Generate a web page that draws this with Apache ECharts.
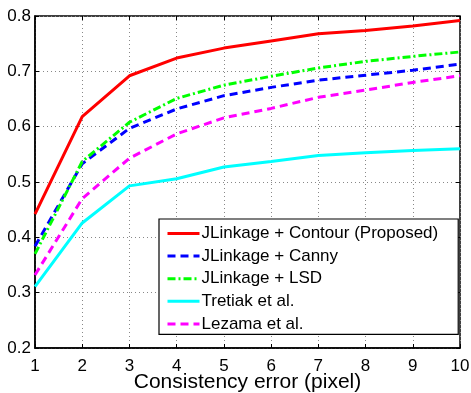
<!DOCTYPE html>
<html>
<head>
<meta charset="utf-8">
<title>Consistency error</title>
<style>
html,body{margin:0;padding:0;background:#fff;}
#chart{width:471px;height:393px;}
</style>
</head>
<body>
<div id="chart"></div>
<script src="https://cdn.jsdelivr.net/npm/echarts@6/dist/echarts.min.js"></script>
<script>
// x: consistency error in pixels
var xs = [1, 2, 3, 4, 5, 6, 7, 8, 9, 10];
var contour = [0.442, 0.618, 0.692, 0.724, 0.742, 0.755, 0.768, 0.774, 0.782, 0.792];
var canny   = [0.384, 0.533, 0.597, 0.632, 0.656, 0.671, 0.684, 0.693, 0.702, 0.713];
var lsd     = [0.370, 0.537, 0.608, 0.651, 0.675, 0.691, 0.706, 0.718, 0.727, 0.735];
var tretiak = [0.311, 0.426, 0.493, 0.506, 0.527, 0.537, 0.548, 0.553, 0.557, 0.560];
var lezama  = [0.332, 0.470, 0.543, 0.587, 0.616, 0.633, 0.653, 0.666, 0.680, 0.692];
var names = ['JLinkage + Contour (Proposed)', 'JLinkage + Canny', 'JLinkage + LSD', 'Tretiak et al.', 'Lezama et al.'];

function pairs(ys){ return xs.map(function(x, i){ return [x, ys[i]]; }); }

var font = 'Liberation Sans, Arial, sans-serif';
var grid = {type: [1, 3], color: '#888', width: 1};

function mkSeries(name, ys, color, dash){
  return {
    name: name, type: 'line', data: pairs(ys), symbol: 'none',
    lineStyle: {color: color, width: 3, type: dash},
    itemStyle: {color: color},
    z: 3
  };
}

var chart = echarts.init(document.getElementById('chart'));
chart.setOption({
  animation: false,
  grid: {left: 35, right: 11, top: 16, bottom: 45, show: true, borderColor: '#000', borderWidth: 1.5,
    outerBoundsMode: 'none', containLabel: false},
  legend: {
    left: 159, top: 219,
    orient: 'vertical', itemWidth: 32, itemHeight: 14, itemGap: 5.6,
    padding: [6, 20, 2, 7],
    borderColor: '#000', borderWidth: 1.2, backgroundColor: '#fff',
    itemStyle: {opacity: 0},
    lineStyle: {width: 3},
    textStyle: {fontFamily: font, fontSize: 17, color: '#000', padding: [0, 0, 0, -3]},
    data: names
  },
  xAxis: [{
    type: 'value', min: 1, max: 10, interval: 1,
    name: 'Consistency error (pixel)', nameLocation: 'middle', nameGap: 24,
    nameMoveOverlap: false,
    nameTextStyle: {fontFamily: font, fontSize: 21, color: '#000', verticalAlign: 'top'},
    axisLine: {lineStyle: {color: '#000', width: 1.5}},
    axisTick: {inside: true, length: 4, lineStyle: {color: '#000'}},
    axisLabel: {fontFamily: font, fontSize: 17, color: '#000', margin: 10},
    splitLine: {show: true, lineStyle: grid}
  }, {
    type: 'value', position: 'top', min: 1, max: 10, interval: 1,
    axisLine: {show: false}, axisLabel: {show: false}, splitLine: {show: false},
    axisTick: {inside: true, length: 4, lineStyle: {color: '#000'}}
  }],
  yAxis: [{
    type: 'value', min: 0.2, max: 0.8, interval: 0.1,
    axisLine: {lineStyle: {color: '#000', width: 1.5}},
    axisTick: {inside: true, length: 4, lineStyle: {color: '#000'}},
    axisLabel: {fontFamily: font, fontSize: 17, color: '#000', margin: 4,
      formatter: function(v){ return v.toFixed(1); }},
    splitLine: {show: true, lineStyle: grid}
  }, {
    type: 'value', position: 'right', min: 0.2, max: 0.8, interval: 0.1,
    axisLine: {show: false}, axisLabel: {show: false}, splitLine: {show: false},
    axisTick: {inside: true, length: 4, lineStyle: {color: '#000'}}
  }],
  series: [
    mkSeries(names[0], contour, '#ff0000', 'solid'),
    mkSeries(names[1], canny, '#0000ff', [8, 5]),
    mkSeries(names[2], lsd, '#00ff00', [8, 3, 2, 3]),
    mkSeries(names[3], tretiak, '#00ffff', 'solid'),
    mkSeries(names[4], lezama, '#ff00ff', [8, 5])
  ]
});
</script>
</body>
</html>
